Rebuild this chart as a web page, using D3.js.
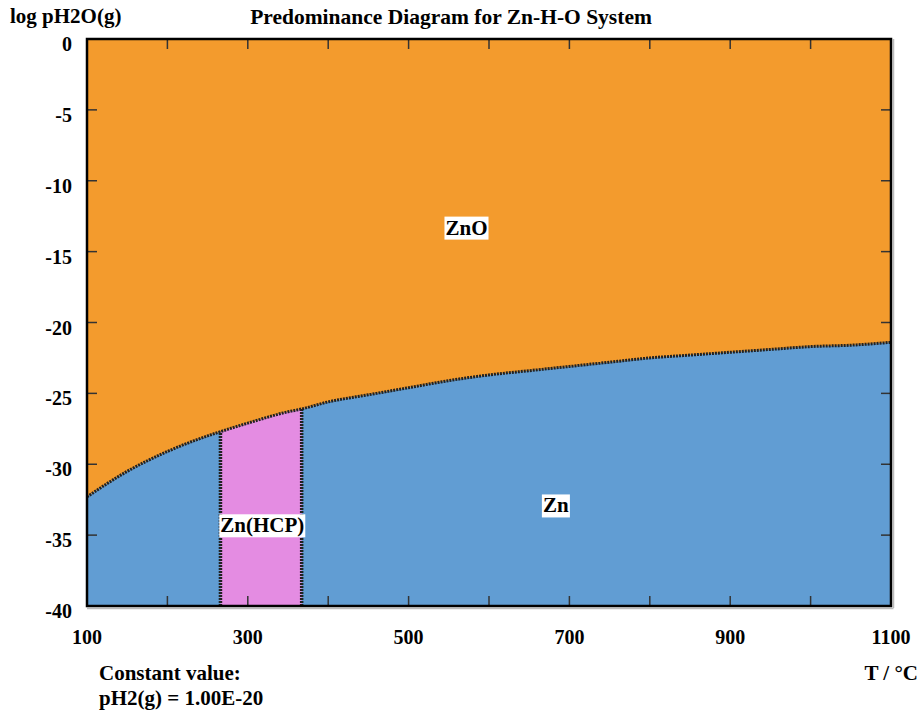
<!DOCTYPE html>
<html>
<head>
<meta charset="utf-8">
<script src="https://cdn.jsdelivr.net/npm/d3@7"></script>
<style>
  body { margin: 0; background: #fff; }
</style>
</head>
<body>
<script>
// boundary ZnO / Zn
const temps = [100, 150, 200, 250, 266, 300, 350, 367, 400, 450, 500, 550, 600, 650, 700, 750, 800, 850, 900, 950, 1000, 1050, 1100];
const logPH2O = [-32.3, -30.5, -29.1, -28.0, -27.7, -27.1, -26.3, -26.1, -25.6, -25.1, -24.6, -24.1, -23.7, -23.4, -23.1, -22.8, -22.5, -22.3, -22.1, -21.9, -21.7, -21.6, -21.4];
// Zn(HCP) band
const hcpRange = [266, 367];
const xTicks = [100, 200, 300, 400, 500, 600, 700, 800, 900, 1000, 1100];
const xLabels = [100, 300, 500, 700, 900, 1100];
const yTicks = [0, -5, -10, -15, -20, -25, -30, -35, -40];
const regionLabels = [
  { name: "ZnO", t: 572, v: -13.8 },
  { name: "Zn", t: 683, v: -33.4 },
  { name: "Zn(HCP)", t: 318, v: -34.8 }
];

const w = 923, h = 713;
const pLeft = 87, pRight = 891, pTop = 39, pBottom = 606;
const colors = { ZnO: "#f39b2d", Zn: "#619dd3", hcp: "#e48ce2" };
const font = "'Liberation Serif', 'Times New Roman', Times, serif";

const boundary = temps.map((t, i) => ({ t: t, v: logPH2O[i] }));

const xScale = d3.scaleLinear().domain([100, 1100]).range([pLeft, pRight]);
const yScale = d3.scaleLinear().domain([-40, 0]).range([pBottom, pTop]);

const svg = d3.select('body').append('svg')
  .attr('width', w)
  .attr('height', h)
  .attr('font-family', font)
  .attr('font-weight', 'bold');

// regions
svg.append('rect')
  .attr('x', pLeft).attr('y', pTop)
  .attr('width', pRight - pLeft).attr('height', pBottom - pTop)
  .attr('fill', colors.Zn);

svg.append('rect')
  .attr('x', xScale(hcpRange[0]))
  .attr('y', pTop)
  .attr('width', xScale(hcpRange[1]) - xScale(hcpRange[0]))
  .attr('height', pBottom - pTop)
  .attr('fill', colors.hcp);

const area = d3.area()
  .curve(d3.curveMonotoneX)
  .x(d => xScale(d.t))
  .y0(yScale(0))
  .y1(d => yScale(d.v));

svg.append('path')
  .datum(boundary)
  .attr('d', area)
  .attr('fill', colors.ZnO);

// boundary lines
const line = d3.line().curve(d3.curveMonotoneX).x(d => xScale(d.t)).y(d => yScale(d.v));
svg.append('path')
  .datum(boundary)
  .attr('d', line)
  .attr('fill', 'none')
  .attr('stroke', '#222')
  .attr('stroke-width', 3)
  .attr('stroke-dasharray', '2,1');

hcpRange.forEach(t => {
  const v = logPH2O[temps.indexOf(t)];
  svg.append('line')
    .attr('x1', xScale(t)).attr('x2', xScale(t))
    .attr('y1', yScale(-40)).attr('y2', yScale(v))
    .attr('stroke', '#222')
    .attr('stroke-width', 3.5)
    .attr('stroke-dasharray', '2,1');
});

// ticks (inward on all four sides)
const tickLen = 10;
const ticks = svg.append('g').attr('stroke', '#333').attr('stroke-width', 1.5);
xTicks.forEach(t => {
  ticks.append('line').attr('x1', xScale(t)).attr('x2', xScale(t)).attr('y1', pBottom).attr('y2', pBottom - tickLen);
  ticks.append('line').attr('x1', xScale(t)).attr('x2', xScale(t)).attr('y1', pTop).attr('y2', pTop + tickLen);
});
yTicks.forEach(v => {
  ticks.append('line').attr('x1', pLeft).attr('x2', pLeft + tickLen).attr('y1', yScale(v)).attr('y2', yScale(v));
  ticks.append('line').attr('x1', pRight).attr('x2', pRight - tickLen).attr('y1', yScale(v)).attr('y2', yScale(v));
});

// frame
svg.append('line').attr('x1', pRight + 2.5).attr('x2', pRight + 2.5).attr('y1', pTop).attr('y2', pBottom + 2)
  .attr('stroke', '#bbb').attr('stroke-width', 1.5);
svg.append('line').attr('x1', pLeft).attr('x2', pRight + 2.5).attr('y1', pBottom + 2.5).attr('y2', pBottom + 2.5)
  .attr('stroke', '#bbb').attr('stroke-width', 1.5);
svg.append('rect')
  .attr('x', pLeft).attr('y', pTop)
  .attr('width', pRight - pLeft).attr('height', pBottom - pTop)
  .attr('fill', 'none')
  .attr('stroke', '#000')
  .attr('stroke-width', 2.5);

// tick labels
svg.append('g').selectAll('text')
  .data(yTicks)
  .enter().append('text')
  .attr('x', 72)
  .attr('y', d => yScale(d) + 12)
  .attr('text-anchor', 'end')
  .attr('font-size', 20)
  .text(d => d);

svg.append('g').selectAll('text')
  .data(xLabels)
  .enter().append('text')
  .attr('x', d => xScale(d))
  .attr('y', 644)
  .attr('text-anchor', 'middle')
  .attr('font-size', 20)
  .text(d => d);

// region labels with white boxes
regionLabels.forEach(r => {
  const g = svg.append('g');
  const t = g.append('text')
    .attr('x', xScale(r.t))
    .attr('y', yScale(r.v))
    .attr('text-anchor', 'middle')
    .attr('font-size', 21)
    .text(r.name);
  const bb = t.node().getBBox();
  g.insert('rect', 'text')
    .attr('x', bb.x - 1).attr('y', bb.y + 1)
    .attr('width', bb.width + 2).attr('height', bb.height - 1)
    .attr('fill', '#fff');
});

// titles
svg.append('text').attr('x', 10).attr('y', 23).attr('font-size', 21).text('log pH2O(g)');
svg.append('text').attr('x', 451).attr('y', 24).attr('text-anchor', 'middle').attr('font-size', 21.5)
  .text('Predominance Diagram for Zn-H-O System');
svg.append('text').attr('x', 918).attr('y', 680).attr('text-anchor', 'end').attr('font-size', 21).text('T / °C');
svg.append('text').attr('x', 99).attr('y', 680).attr('font-size', 21).text('Constant value:');
svg.append('text').attr('x', 99).attr('y', 705).attr('font-size', 21).text('pH2(g) = 1.00E-20');
</script>
</body>
</html>
